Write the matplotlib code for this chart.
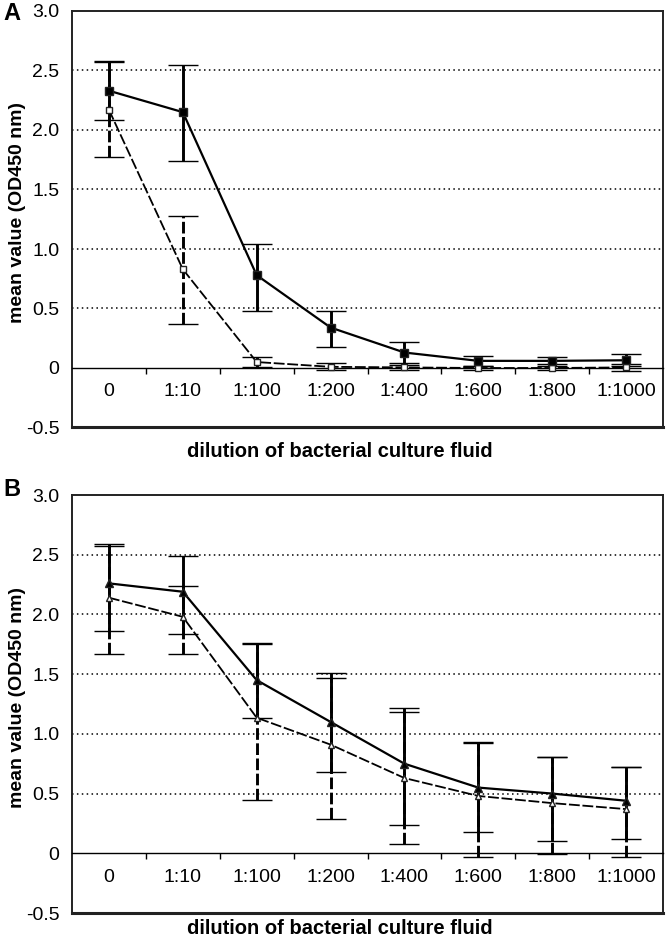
import matplotlib
matplotlib.use("Agg")
import matplotlib.pyplot as plt
import numpy as np

plt.rcParams['font.family'] = ['Liberation Sans', 'DejaVu Sans']

categories = ['0', '1:10', '1:100', '1:200', '1:400', '1:600', '1:800', '1:1000']

# panel A, squares
a_solid = [2.33, 2.15, 0.78, 0.34, 0.13, 0.06, 0.06, 0.065]
a_solid_lo = [0.25, 0.41, 0.30, 0.16, 0.09, 0.04, 0.03, 0.05]
a_solid_hi = [0.24, 0.40, 0.26, 0.14, 0.09, 0.04, 0.03, 0.05]
a_dash = [2.17, 0.83, 0.05, 0.01, 0.005, 0.0, 0.0, 0.005]
a_dash_lo = [0.40, 0.46, 0.04, 0.03, 0.02, 0.02, 0.02, 0.03]
a_dash_hi = [0.41, 0.45, 0.04, 0.03, 0.02, 0.02, 0.02, 0.03]

# panel B, triangles
b_solid = [2.26, 2.19, 1.45, 1.10, 0.75, 0.55, 0.50, 0.44]
b_solid_lo = [0.40, 0.35, 0.32, 0.42, 0.51, 0.375, 0.40, 0.32]
b_solid_hi = [0.33, 0.30, 0.31, 0.41, 0.47, 0.375, 0.31, 0.28]
b_dash = [2.14, 1.98, 1.135, 0.91, 0.63, 0.48, 0.42, 0.37]
b_dash_lo = [0.47, 0.31, 0.69, 0.62, 0.55, 0.51, 0.43, 0.40]
b_dash_hi = [0.43, 0.26, 0.62, 0.56, 0.55, 0.45, 0.39, 0.35]

y_ticks = [-0.5, 0, 0.5, 1.0, 1.5, 2.0, 2.5, 3.0]
y_tick_labels = ['-0.5', '0', '0.5', '1.0', '1.5', '2.0', '2.5', '3.0']
grid_levels = [0.5, 1.0, 1.5, 2.0, 2.5]

W, H = 666, 938


def draw_series(ax, x, mean, lo, hi, marker, filled):
    if filled:
        ls = '-'
        lw = 1.6
        mfc = 'black'
        ms = 5.5
        bar_ls = '-'
    else:
        ls = (0, (6, 1.5))
        lw = 1.3
        mfc = 'white'
        ms = 5
        bar_ls = (0, (4, 1.2))
    line, caps, bars = ax.errorbar(x, mean, yerr=[lo, hi], color='black',
                                   ecolor='black', elinewidth=2.1, capsize=11,
                                   capthick=2.8, linestyle=ls, linewidth=lw,
                                   marker=marker, markersize=ms,
                                   markerfacecolor=mfc, markeredgecolor='#222222',
                                   markeredgewidth=1.0, zorder=3)
    bars[0].set_linestyle(bar_ls)


def draw_panel(ax, solid, solid_lo, solid_hi, dash, dash_lo, dash_hi, marker):
    x = np.arange(len(categories))
    ax.set_xlim(-0.5, len(categories) - 0.5)
    ax.set_ylim(-0.5, 3.0)

    for g in grid_levels:
        ax.axhline(g, color='black', linestyle=(0, (1, 2.2)), linewidth=1.1, zorder=1)

    draw_series(ax, x, dash, dash_lo, dash_hi, marker, False)
    draw_series(ax, x, solid, solid_lo, solid_hi, marker, True)

    # x axis sits at zero, box closed at -0.5
    ax.spines['bottom'].set_position(('data', 0))
    ax.spines['bottom'].set_linewidth(1.0)
    for s in ['top', 'left', 'right']:
        ax.spines[s].set_linewidth(1.4)
        ax.spines[s].set_color('#222222')
    ax.axhline(-0.5, color='#222222', linewidth=2.2, clip_on=False, zorder=4)

    ax.set_xticks(x[:-1] + 0.5)
    ax.set_xticklabels([])
    ax.set_xticks(x, minor=True)
    ax.set_xticklabels(categories, minor=True, fontsize=14)
    ax.tick_params(axis='x', which='major', direction='out', length=4, width=1)
    ax.tick_params(axis='x', which='minor', length=0, pad=11)

    ax.set_yticks(y_ticks)
    ax.set_yticklabels(y_tick_labels, fontsize=14)
    ax.tick_params(axis='y', length=0, pad=9)


fig = plt.figure(figsize=(W / 100, H / 100), dpi=100)
axA = fig.add_axes([72 / W, 1 - 427.5 / H, 591 / W, 416.5 / H])
axB = fig.add_axes([72 / W, 1 - 913 / H, 591 / W, 418 / H])

draw_panel(axA, a_solid, a_solid_lo, a_solid_hi, a_dash, a_dash_lo, a_dash_hi, 's')
draw_panel(axB, b_solid, b_solid_lo, b_solid_hi, b_dash, b_dash_lo, b_dash_hi, '^')

for label, yc, ylab, xlab in [('A', 14, 212, 451), ('B', 490, 697, 928)]:
    fig.text(3 / W, 1 - yc / H, label, fontsize=17, fontweight='bold', va='center', ha='left')
    fig.text(18 / W, 1 - ylab / H, 'mean value (OD450 nm)', fontsize=14, fontweight='bold',
             rotation=90, ha='center', va='center')
    fig.text(340 / W, 1 - xlab / H, 'dilution of bacterial culture fluid', fontsize=14.5,
             fontweight='bold', ha='center', va='center')

fig.savefig('out.png', dpi=100)
